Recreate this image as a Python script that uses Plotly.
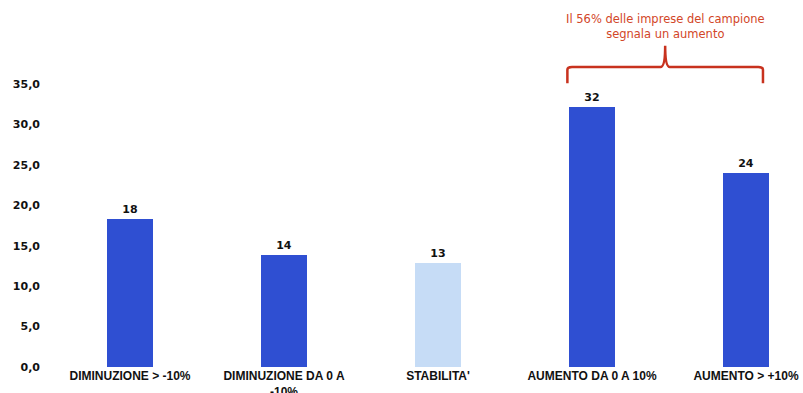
import plotly.graph_objects as go

categories = ["DIMINUZIONE > -10%", "DIMINUZIONE DA 0 A<br>-10%", "STABILITA'",
              "AUMENTO DA 0 A 10%", "AUMENTO > +10%"]
values = [18.3, 13.8, 12.9, 32.2, 24.0]
bar_colors = ["#2f4fd2", "#2f4fd2", "#c6dcf6", "#2f4fd2", "#2f4fd2"]
y_ticks = [0, 5, 10, 15, 20, 25, 30, 35]
note_text = "Il 56% delle imprese del campione<br>segnala un aumento"

positions = list(range(len(categories)))
bar_w = 0.3

fig = go.Figure(go.Bar(
    x=positions, y=values, width=bar_w,
    marker=dict(color=bar_colors, line=dict(width=0)),
    texttemplate="%{y:.0f}", textposition="outside",
    textfont=dict(family="DejaVu Sans", size=11, color="#111111", weight="bold"),
    cliponaxis=False,
))

red = "#c8321e"
# bracket over the "aumento" bars
x0 = positions[3] - bar_w / 2 - 0.01
x1 = positions[4] + bar_w / 2 - 0.04
xm = (x0 + x1) / 2
yb, yl, yp = 1.003, 1.06, 1.135
r = 0.03
path = (f"M {x0},{yb} L {x0},{yl - 0.01} Q {x0},{yl} {x0 + r},{yl} "
        f"L {xm - r},{yl} Q {xm},{yl} {xm},{yp} Q {xm},{yl} {xm + r},{yl} "
        f"L {x1 - r},{yl} Q {x1},{yl} {x1},{yl - 0.01} L {x1},{yb}")
fig.add_shape(type="path", path=path, xref="x", yref="paper",
              line=dict(color=red, width=2.5))

fig.add_annotation(x=xm, y=1.262, xref="x", yref="paper", text=note_text,
                   showarrow=False, align="center",
                   font=dict(family="DejaVu Sans", size=11.5, color="#d24628"))

fig.update_layout(
    width=803, height=393,
    margin=dict(l=55, r=8, t=84, b=26),
    paper_bgcolor="white", plot_bgcolor="white",
    template="none",
    separators=",.",
    showlegend=False,
    bargap=0,
)
fig.update_xaxes(
    range=[-0.487, 4.318], tickvals=positions, ticktext=categories,
    showgrid=False, zeroline=False, showline=False, ticks="",
    tickfont=dict(family="Liberation Sans", size=12, color="#111111", weight="bold"),
    automargin=False,
)
fig.update_yaxes(
    range=[0, 35], tickvals=y_ticks, tickformat=".1f",
    showgrid=False, zeroline=False, showline=False, ticks="",
    ticklabelstandoff=14,
    tickfont=dict(family="DejaVu Sans", size=11, color="#111111", weight="bold"),
    automargin=False,
)

fig.write_html("out.html")
